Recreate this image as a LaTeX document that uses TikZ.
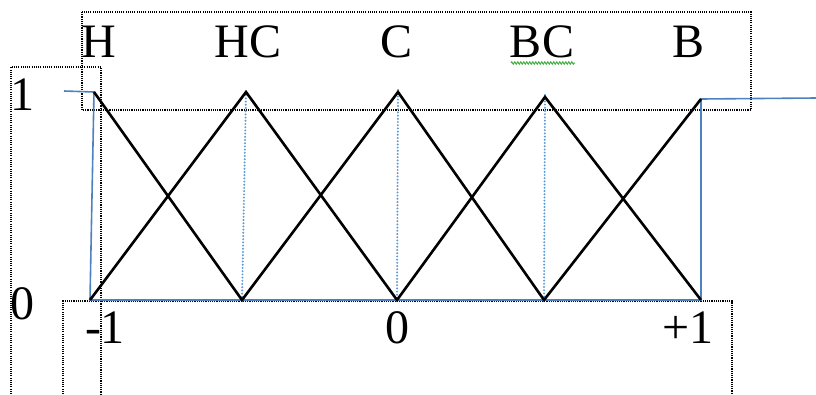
\documentclass[tikz,border=0pt]{standalone}
\usepackage{fontspec}
\setmainfont{Liberation Serif}
\usetikzlibrary{decorations.pathmorphing}
\definecolor{lblue}{RGB}{79,129,189}
\definecolor{dblue}{RGB}{91,155,213}
\definecolor{sqgreen}{RGB}{70,175,70}
\begin{document}
\begin{tikzpicture}[x=1pt,y=-1pt,
  lbl/.style={font=\fontsize{48}{56}\selectfont, inner sep=0pt, anchor=base},
  mf/.style={line width=2.6pt, black, line join=miter},
  guide/.style={dblue, line width=2.2pt, line cap=round, dash pattern=on 0pt off 3.2pt},
  axis/.style={lblue, line width=1.6pt},
  frame/.style={black, line width=1.1pt, dash pattern=on 1.1pt off 1.1pt},
  squig/.style={sqgreen, line width=1pt, decorate, decoration={zigzag, segment length=3pt, amplitude=1.2pt}}]
\useasboundingbox (0,0) rectangle (816,394);
% frames
\draw[frame] (82,12) rectangle (751,110);
\draw[frame] (11,394) -- (11,67) -- (101,67) -- (101,394);
\draw[frame] (63,394) -- (63,301) -- (732,301) -- (732,394);
% key points
\coordinate (t1) at (94,92);
\coordinate (t2) at (246,92);
\coordinate (t3) at (398,92);
\coordinate (t4) at (545,97);
\coordinate (t5) at (701,99);
\coordinate (b1) at (90,300);
\coordinate (b2) at (242,300);
\coordinate (b3) at (397,300);
\coordinate (b4) at (544,300);
\coordinate (b5) at (701,300);
\coordinate (ax0) at (64,91);
\coordinate (ax1) at (816,98);
% blue guides
\draw[guide] (t2) -- (b2);
\draw[guide] (398,90) -- (b3);
\draw[guide] (545,95) -- (b4);
\draw[axis] (ax0) -- (t1) -- (b1) -- (b5) -- (t5) -- (ax1);
% membership functions
\draw[mf] (b1) -- (t2) -- (b3) -- (t4) -- (b5);
\draw[mf] (t1) -- (b2) -- (t3) -- (b4) -- (t5);
% labels
\node[lbl] (lH) at (99,57) {H};
\node[lbl] (lHC) at (248,57) {HC};
\node[lbl] (lC) at (397,57) {C};
\node[lbl] (lBC) at (542,57) {BC};
\node[lbl] (lB) at (688,57) {B};
\node[lbl] (y1) at (22,110) {1};
\node[lbl] (y0) at (22,319) {0};
\node[lbl] (xm) at (105,343) {-1};
\node[lbl] (x0) at (397,343) {0};
\node[lbl] (xp) at (688,343) {+1};
\draw[squig] (511,63) -- (575,63);
\end{tikzpicture}
\end{document}
